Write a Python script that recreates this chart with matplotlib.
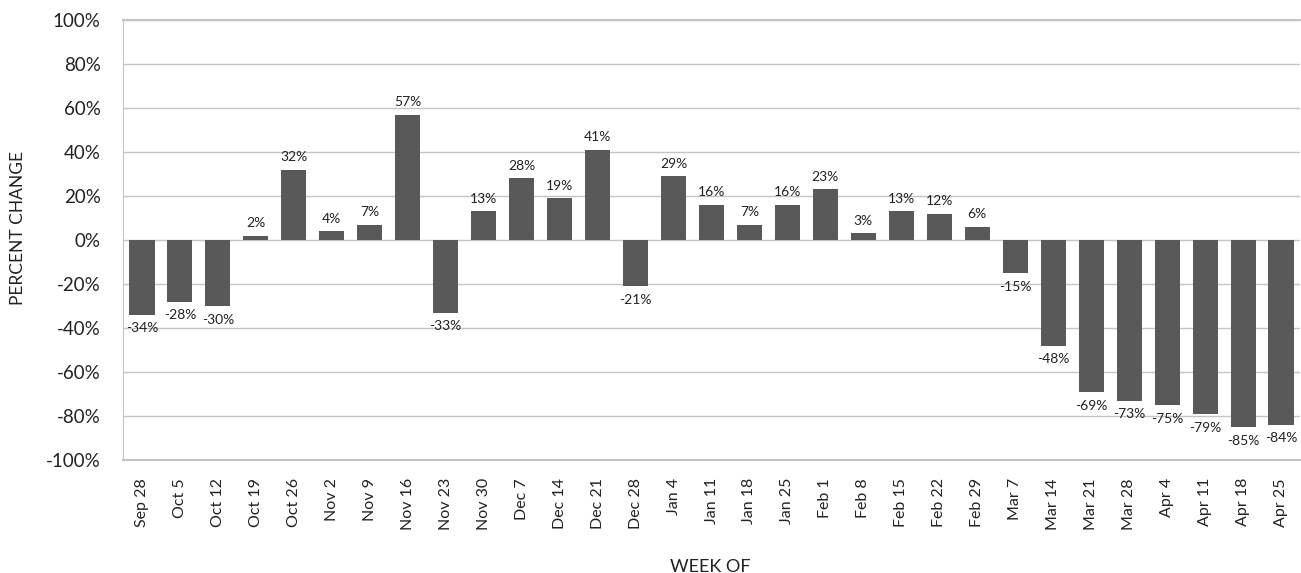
import matplotlib.pyplot as plt
import numpy as np

plt.rcParams['font.family'] = ['Lato', 'DejaVu Sans']

weeks = ['Sep 28', 'Oct 5', 'Oct 12', 'Oct 19', 'Oct 26', 'Nov 2', 'Nov 9', 'Nov 16',
         'Nov 23', 'Nov 30', 'Dec 7', 'Dec 14', 'Dec 21', 'Dec 28', 'Jan 4', 'Jan 11',
         'Jan 18', 'Jan 25', 'Feb 1', 'Feb 8', 'Feb 15', 'Feb 22', 'Feb 29', 'Mar 7',
         'Mar 14', 'Mar 21', 'Mar 28', 'Apr 4', 'Apr 11', 'Apr 18', 'Apr 25']
pct_change = [-34, -28, -30, 2, 32, 4, 7, 57, -33, 13, 28, 19, 41, -21, 29, 16,
              7, 16, 23, 3, 13, 12, 6, -15, -48, -69, -73, -75, -79, -85, -84]
y_ticks = [-100, -80, -60, -40, -20, 0, 20, 40, 60, 80, 100]

fig = plt.figure(figsize=(13.01, 5.73), dpi=100)
ax = fig.add_axes([123 / 1301, 113 / 573, 1177 / 1301, 440 / 573])

x = np.arange(len(weeks))
ax.bar(x, pct_change, width=0.66, color='#595959', zorder=3)

# value labels: above positive bars, below negative ones
for xi, v in zip(x, pct_change):
    if v >= 0:
        ax.text(xi, v + 3, f'{v}%', ha='center', va='bottom', fontsize=10, color='#222222')
    else:
        ax.text(xi, v - 3.5, f'{v}%', ha='center', va='top', fontsize=10, color='#222222')

ax.set_xlim(-0.5, len(weeks) - 0.5)
ax.set_ylim(-100, 100)
ax.set_yticks(y_ticks)
ax.set_yticklabels([f'{t}%' for t in y_ticks], fontsize=13.5, color='#222222')
ax.set_xticks(x)
ax.set_xticklabels(weeks, rotation=90, fontsize=11.5, color='#222222')
ax.tick_params(axis='both', length=0)
ax.tick_params(axis='x', pad=13)
ax.tick_params(axis='y', pad=16)

ax.grid(axis='y', color='#c4c4c4', linewidth=1, zorder=0)
ax.axhline(-100, color='#c4c4c4', linewidth=1.5, zorder=0, clip_on=False)
ax.axhline(100, color='#c4c4c4', linewidth=1.5, zorder=0, clip_on=False)
for side in ['top', 'right', 'bottom']:
    ax.spines[side].set_visible(False)
ax.spines['left'].set_color('#c4c4c4')

fig.text(18 / 1301, 1 - 228 / 573, 'PERCENT CHANGE', rotation=90, ha='center', va='center',
         fontsize=12.5, color='#222222')
fig.text(710 / 1301, 1 - 567 / 573, 'WEEK OF', ha='center', va='center', fontsize=13,
         color='#222222')

fig.savefig('out.png', dpi=100)
